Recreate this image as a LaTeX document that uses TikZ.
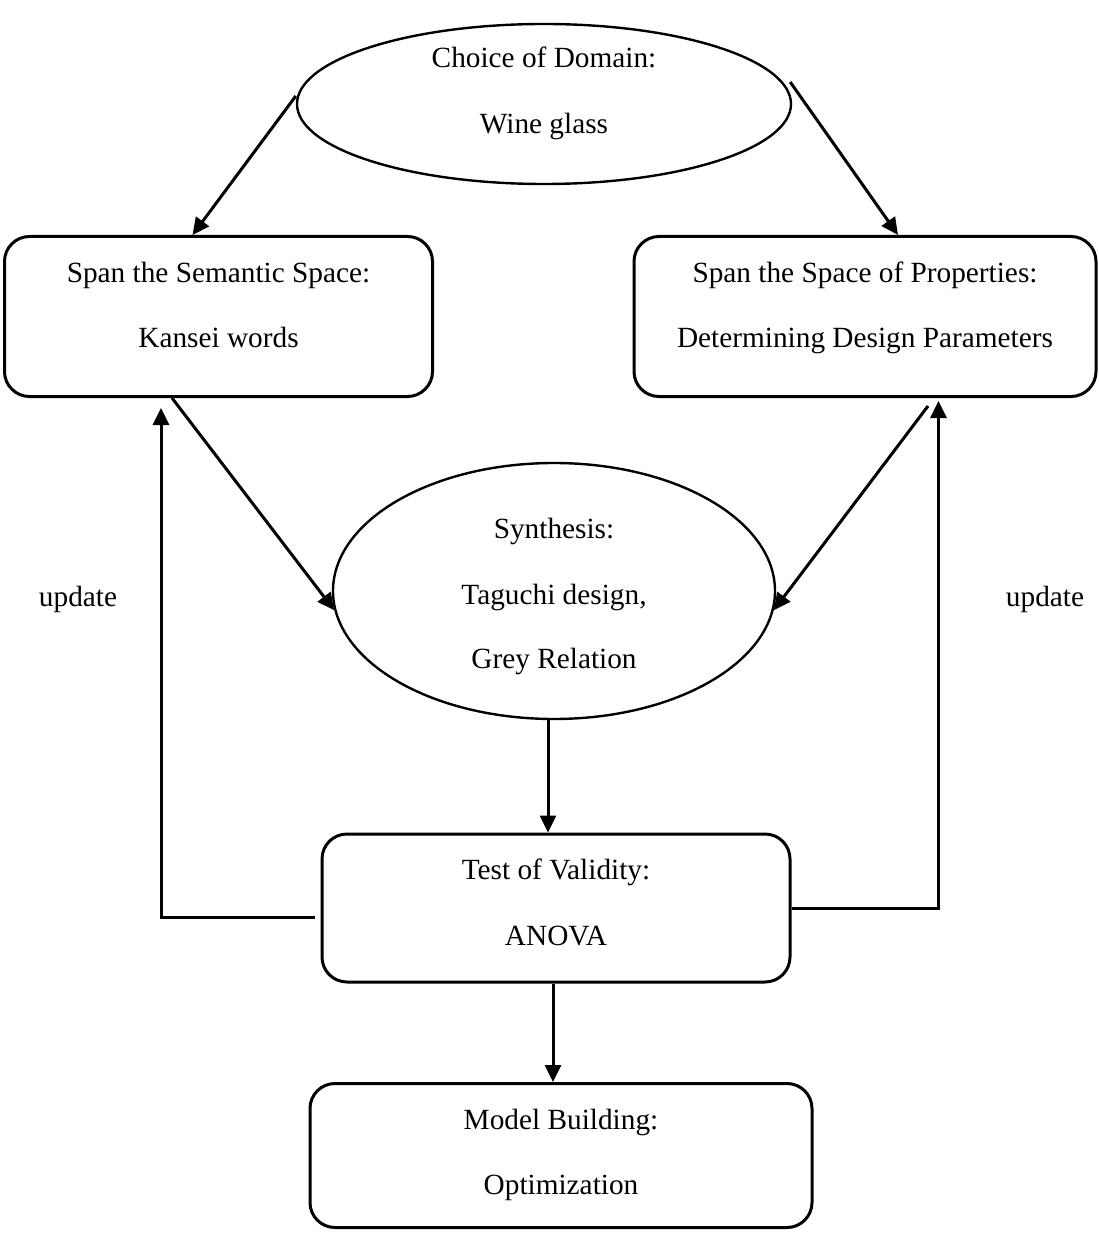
\documentclass[tikz,border=0pt]{standalone}
\usepackage{fontspec}
\setmainfont{Liberation Serif}
\usetikzlibrary{arrows.meta,shapes.geometric,calc}

\begin{document}
\begin{tikzpicture}[x=1pt,y=1pt,
  every node/.style={font=\fontsize{29.3}{35}\selectfont},
  oval/.style={ellipse, draw, line width=2.4pt, inner sep=0pt},
  stepbox/.style={rectangle, rounded corners=25pt, draw, line width=3pt, inner sep=0pt},
  txt/.style={anchor=base, inner sep=0pt},
  flow/.style={line width=3pt, -{Triangle[length=17pt,width=16pt]}},
  link/.style={line width=3pt},
]
\useasboundingbox (0,0) rectangle (1098,-1233);

% shapes
\node[oval, minimum width=494, minimum height=160] (dom) at (544,-104) {};
\node[stepbox, minimum width=428, minimum height=160] (sem) at (218.5,-316.5) {};
\node[stepbox, minimum width=462, minimum height=160] (prop) at (865,-316.5) {};
\node[oval, minimum width=442, minimum height=256] (syn) at (554,-591) {};
\node[stepbox, minimum width=468, minimum height=148] (test) at (556,-908) {};
\node[stepbox, minimum width=502, minimum height=144] (model) at (561,-1155.5) {};

% texts
\node[txt] (domA) at ($(dom.center)+(0,36)$) {Choice of Domain:};
\node[txt] (domB) at ($(dom.center)+(0,-30)$) {Wine glass};
\node[txt] (semA) at ($(sem.center)+(0,34.5)$) {Span the Semantic Space:};
\node[txt] (semB) at ($(sem.center)+(0,-30.5)$) {Kansei words};
\node[txt] (propA) at ($(prop.center)+(0,34.5)$) {Span the Space of Properties:};
\node[txt] (propB) at ($(prop.center)+(0,-30.5)$) {Determining Design Parameters};
\node[txt] (synA) at ($(syn.center)+(0,53)$) {Synthesis:};
\node[txt] (synB) at ($(syn.center)+(0,-13)$) {Taguchi design,};
\node[txt] (synC) at ($(syn.center)+(0,-77)$) {Grey Relation};
\node[txt] (testA) at ($(test.center)+(0,29)$) {Test of Validity:};
\node[txt] (testB) at ($(test.center)+(0,-37)$) {ANOVA};
\node[txt] (modA) at ($(model.center)+(0,26.5)$) {Model Building:};
\node[txt] (modB) at ($(model.center)+(0,-38.5)$) {Optimization};
\node[txt] (updL) at (78,-606) {update};
\node[txt] (updR) at (1045,-606) {update};

% connectors
\draw[flow] ($(dom.west)+(0,8)$) -- ($(sem.north)+(-26,0)$);
\draw[flow] ($(dom.east)+(-2,22)$) -- ($(prop.north)+(33,0)$);
\draw[flow] ($(sem.south)+(-46.5,0)$) -- (syn.185);
\draw[flow] ($(prop.south)+(63,-8)$) -- (syn.-5);
\coordinate (s5) at ($(syn.south)+(-6,0)$);
\draw[flow] (s5) -- (s5 |- test.north);
\coordinate (s6) at ($(test.south)+(-3,0)$);
\draw[flow] (s6) -- (s6 |- model.north);

% update loops
\coordinate (u1s) at ($(test.west)+(-6,-9)$);
\coordinate (u1e) at ($(sem.south west)+(158,-10)$);
\draw[flow] (u1s) -| (u1e);
\coordinate (u2e) at ($(prop.south west)+(306,-3)$);
\draw[flow] (test.east) -| (u2e);
\end{tikzpicture}
\end{document}
